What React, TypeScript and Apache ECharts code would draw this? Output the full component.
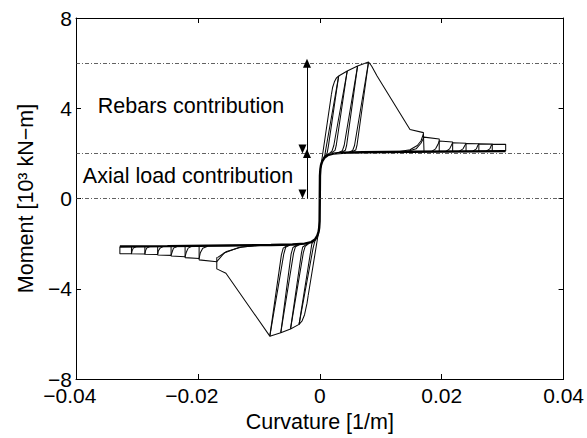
import React, { useEffect, useRef } from 'react';
import * as echarts from 'echarts';

// ---- axis ticks / reference levels ----
const xTickLabels = [-0.04, -0.02, 0, 0.02, 0.04];
const yTickLabels = [-8, -4, 0, 4, 8];
const refLevels = [6, 2, 0];
const arrowX = -0.0021;
const rebarSpan = [6, 2];
const axialSpan = [2, 0];

// ---- backbone (thick) curve: curvature [1/m], moment [10^3 kN-m] ----
const backbone: number[][] = [
  [-0.0328, -2.13], [-0.025, -2.11], [-0.015, -2.08], [-0.008, -2.06], [-0.0045, -2.04],
  [-0.0025, -2.0], [-0.0014, -1.93], [-0.0008, -1.82], [-0.0004, -1.65], [-0.0002, -1.48],
  [-0.0001, -1.3], [-0.00003, -1.0], [0, 0], [0.00003, 1.0], [0.0001, 1.3], [0.0002, 1.48],
  [0.0004, 1.65], [0.0008, 1.82], [0.0013, 1.92], [0.0022, 1.99], [0.0037, 2.03],
  [0.007, 2.05], [0.015, 2.07], [0.0305, 2.1],
];

// ---- positive side: large cycles ----
const posEnvelope: number[][] = [
  [0.0019, 4.6], [0.0021, 4.92], [0.0024, 5.17], [0.0027, 5.33], [0.0031, 5.43],
  [0.0045, 5.65], [0.0062, 5.87], [0.008, 6.05], [0.0085, 5.87], [0.0094, 5.43],
  [0.0148, 3.06], [0.017, 2.92], [0.0171, 2.1],
];
const posLoad1 = [[0.0001, 1.3], [0.0003, 1.65], [0.0019, 4.6]];
const posLoad2 = [[0.0004, 1.65], [0.0008, 1.88], [0.001, 2.2], [0.0031, 5.43]];
const posLoad3 = [[0.0013, 1.93], [0.002, 2.1], [0.0023, 2.35], [0.0045, 5.65]];
const posLoad4 = [[0.003, 2.02], [0.0037, 2.12], [0.004, 2.35], [0.0062, 5.87]];
const posLoad5 = [[0.0047, 2.04], [0.0054, 2.13], [0.0057, 2.35], [0.008, 6.05]];
const posUnload1 = [[0.0031, 5.43], [0.0014, 2.3], [0.0012, 2.0], [0.0007, 1.82]];
const posUnload2 = [[0.0045, 5.65], [0.0027, 2.35], [0.0025, 2.13], [0.0018, 2.0]];
const posUnload3 = [[0.0062, 5.87], [0.0044, 2.35], [0.0042, 2.14], [0.0035, 2.04]];
const posUnload4 = [[0.008, 6.05], [0.0061, 2.35], [0.0059, 2.15], [0.0052, 2.06]];

// ---- positive side: small cycles ----
const posReload = [[0.0129, 2.07], [0.0148, 2.16], [0.016, 2.35], [0.0166, 2.55], [0.017, 2.86]];
const posSmall1 = [[0.0142, 2.07], [0.0158, 2.2], [0.0166, 2.45], [0.0171, 2.72], [0.0196, 2.64], [0.0196, 2.1]];
const posSmall2 = [[0.0183, 2.08], [0.019, 2.2], [0.0194, 2.4], [0.0196, 2.55], [0.0218, 2.5], [0.0218, 2.1]];
const posSmall3 = [[0.0207, 2.09], [0.0213, 2.2], [0.0216, 2.36], [0.0218, 2.47], [0.024, 2.45], [0.024, 2.1]];
const posSmall4 = [[0.0229, 2.1], [0.0235, 2.2], [0.0238, 2.35], [0.024, 2.44], [0.0261, 2.43], [0.0261, 2.1]];
const posSmall5 = [[0.0251, 2.1], [0.0257, 2.2], [0.0259, 2.34], [0.0261, 2.42], [0.0283, 2.41], [0.0283, 2.1]];
const posSmall6 = [[0.0273, 2.1], [0.0279, 2.2], [0.0281, 2.33], [0.0283, 2.4], [0.0305, 2.4], [0.0305, 2.1]];

// ---- negative side: large cycles ----
const negEnvelope: number[][] = [
  [-0.0019, -4.3], [-0.0021, -4.65], [-0.0025, -5.15], [-0.0029, -5.42], [-0.0034, -5.58],
  [-0.0048, -5.78], [-0.0064, -5.95], [-0.0082, -6.1], [-0.0154, -3.31], [-0.0169, -3.12],
  [-0.0169, -2.6],
];
const negLoad1 = [[-0.0001, -1.3], [-0.0003, -1.65], [-0.0019, -4.3]];
const negLoad2 = [[-0.0004, -1.65], [-0.0008, -1.88], [-0.0011, -2.2], [-0.0034, -5.58]];
const negLoad3 = [[-0.0017, -1.98], [-0.0024, -2.12], [-0.0027, -2.4], [-0.0048, -5.78]];
const negLoad4 = [[-0.0033, -2.04], [-0.004, -2.14], [-0.0043, -2.42], [-0.0064, -5.95]];
const negLoad5 = [[-0.0049, -2.06], [-0.0056, -2.16], [-0.0059, -2.45], [-0.0082, -6.1]];
const negUnload1 = [[-0.0034, -5.58], [-0.0015, -2.35], [-0.0013, -2.0], [-0.0008, -1.82]];
const negUnload2 = [[-0.0048, -5.78], [-0.003, -2.4], [-0.0028, -2.15], [-0.0021, -2.02]];
const negUnload3 = [[-0.0064, -5.95], [-0.0047, -2.45], [-0.0044, -2.17], [-0.0037, -2.05]];
const negUnload4 = [[-0.0082, -6.1], [-0.0063, -2.5], [-0.006, -2.2], [-0.0053, -2.07]];

// ---- negative side: small cycles ----
const negReload = [[-0.0098, -2.08], [-0.0128, -2.15], [-0.0153, -2.35], [-0.0168, -2.62]];
const negSmall1 = [[-0.0103, -2.08], [-0.0133, -2.17], [-0.0157, -2.42], [-0.0169, -2.8], [-0.0198, -2.72], [-0.0198, -2.14]];
const negSmall2 = [[-0.0184, -2.12], [-0.0192, -2.2], [-0.0196, -2.4], [-0.0198, -2.66], [-0.0221, -2.62], [-0.0221, -2.14]];
const negSmall3 = [[-0.021, -2.12], [-0.0216, -2.2], [-0.0219, -2.38], [-0.0221, -2.58], [-0.0244, -2.55], [-0.0244, -2.14]];
const negSmall4 = [[-0.0234, -2.13], [-0.024, -2.2], [-0.0242, -2.35], [-0.0244, -2.52], [-0.0266, -2.5], [-0.0266, -2.14]];
const negSmall5 = [[-0.0257, -2.13], [-0.0262, -2.2], [-0.0265, -2.33], [-0.0266, -2.48], [-0.0287, -2.47], [-0.0287, -2.14]];
const negSmall6 = [[-0.0279, -2.13], [-0.0284, -2.2], [-0.0286, -2.32], [-0.0287, -2.46], [-0.0309, -2.45], [-0.0309, -2.14]];
const negSmall7 = [[-0.0301, -2.13], [-0.0306, -2.2], [-0.0308, -2.32], [-0.0309, -2.45], [-0.0328, -2.45], [-0.0328, -2.13]];

const thinPaths = [
  posEnvelope, posLoad1, posLoad2, posLoad3, posLoad4, posLoad5,
  posUnload1, posUnload2, posUnload3, posUnload4,
  posReload, posSmall1, posSmall2, posSmall3, posSmall4, posSmall5, posSmall6,
  negEnvelope, negLoad1, negLoad2, negLoad3, negLoad4, negLoad5,
  negUnload1, negUnload2, negUnload3, negUnload4,
  negReload, negSmall1, negSmall2, negSmall3, negSmall4, negSmall5, negSmall6, negSmall7,
];

const FONT = '"Liberation Sans", Arial, Helvetica, sans-serif';

const fmt = (v: number) => String(Number(v.toFixed(3))).replace('-', '\u2212');
// MATLAB-style: the number part is centred on the tick, the minus hangs to the left
const fmtX = (v: number) => (v < 0 ? `{n|${fmt(v)}}{p| }` : `{n|${fmt(v)}}`);

export default function App() {
  const ref = useRef<HTMLDivElement>(null);
  useEffect(() => {
    if (!ref.current) return;
    const chart = echarts.init(ref.current, undefined, { renderer: 'svg' });
    const axisCommon = {
      axisLine: { show: true, onZero: false, lineStyle: { color: '#000', width: 1 } },
      axisTick: { show: true, inside: true, length: 5, lineStyle: { color: '#000', width: 1 } },
      splitLine: { show: false },
    };
    const thinSeries = thinPaths.map((p) => ({
      type: 'line',
      data: p,
      symbol: 'none',
      showSymbol: false,
      silent: true,
      lineStyle: { color: '#0a0a0a', width: 1.05 },
      z: 3,
    }));
    chart.setOption({
      animation: false,
      grid: { left: 76, right: 21, top: 18, bottom: 54, containLabel: false },
      xAxis: [
        {
          type: 'value', min: xTickLabels[0], max: xTickLabels[xTickLabels.length - 1], interval: 0.02,
          position: 'bottom', ...axisCommon,
          axisLabel: {
            margin: 6, color: '#000', fontSize: 21, fontFamily: FONT, formatter: fmtX,
            rich: {
              n: { fontSize: 21, fontFamily: FONT, color: '#000' },
              p: { width: 12.3, fontSize: 21, fontFamily: FONT },
            },
          },
          name: 'Curvature [1/m]', nameLocation: 'middle', nameGap: 32,
          nameTextStyle: { color: '#000', fontSize: 21.5, fontFamily: FONT },
        },
        {
          type: 'value', min: xTickLabels[0], max: xTickLabels[xTickLabels.length - 1], interval: 0.02,
          position: 'top', ...axisCommon, axisLabel: { show: false },
        },
      ],
      yAxis: [
        {
          type: 'value', min: yTickLabels[0], max: yTickLabels[yTickLabels.length - 1], interval: 4,
          position: 'left', ...axisCommon,
          axisLabel: { margin: 4, color: '#000', fontSize: 21, fontFamily: FONT, formatter: fmt },
          name: 'Moment [10\u00b3 kN\u2212m]', nameLocation: 'middle', nameGap: 36, nameRotate: 90,
          nameTextStyle: { color: '#000', fontSize: 21.5, fontFamily: FONT },
        },
        {
          type: 'value', min: yTickLabels[0], max: yTickLabels[yTickLabels.length - 1], interval: 4,
          position: 'right', ...axisCommon, axisLabel: { show: false },
        },
      ],
      series: [
        {
          type: 'line',
          data: backbone,
          symbol: 'none',
          silent: true,
          lineStyle: { color: '#000', width: 2.4 },
          z: 4,
          markLine: {
            silent: true,
            symbol: ['none', 'none'],
            label: { show: false },
            lineStyle: { type: [4, 2, 1, 2], color: '#3a3a3a', width: 0.8 },
            data: refLevels.map((v) => ({ yAxis: v })),
          },
        },
        {
          type: 'line',
          data: [],
          symbol: 'none',
          silent: true,
          markLine: {
            silent: true,
            symbol: ['triangle', 'triangle'],
            symbolSize: [8, 9],
            symbolOffset: [0, 4.5],
            label: { show: false },
            lineStyle: { type: 'solid', color: '#000', width: 1 },
            data: [
              [{ coord: [arrowX, rebarSpan[0]] }, { coord: [arrowX, rebarSpan[1]] }],
              [{ coord: [arrowX, axialSpan[0]] }, { coord: [arrowX, axialSpan[1]] }],
            ],
          },
        },
        ...thinSeries,
      ],
      graphic: [
        {
          type: 'text', x: 191, y: 106,
          style: { text: 'Rebars contribution', fontSize: 21.5, fontFamily: FONT, fill: '#000', align: 'center', verticalAlign: 'middle' },
        },
        {
          type: 'text', x: 188, y: 176,
          style: { text: 'Axial load contribution', fontSize: 21.5, fontFamily: FONT, fill: '#000', align: 'center', verticalAlign: 'middle' },
        },
      ],
    });
    return () => chart.dispose();
  }, []);
  return <div ref={ref} style={{ position: 'absolute', left: 0, top: 0, width: 587, height: 438, background: '#fff' }} />;
}
